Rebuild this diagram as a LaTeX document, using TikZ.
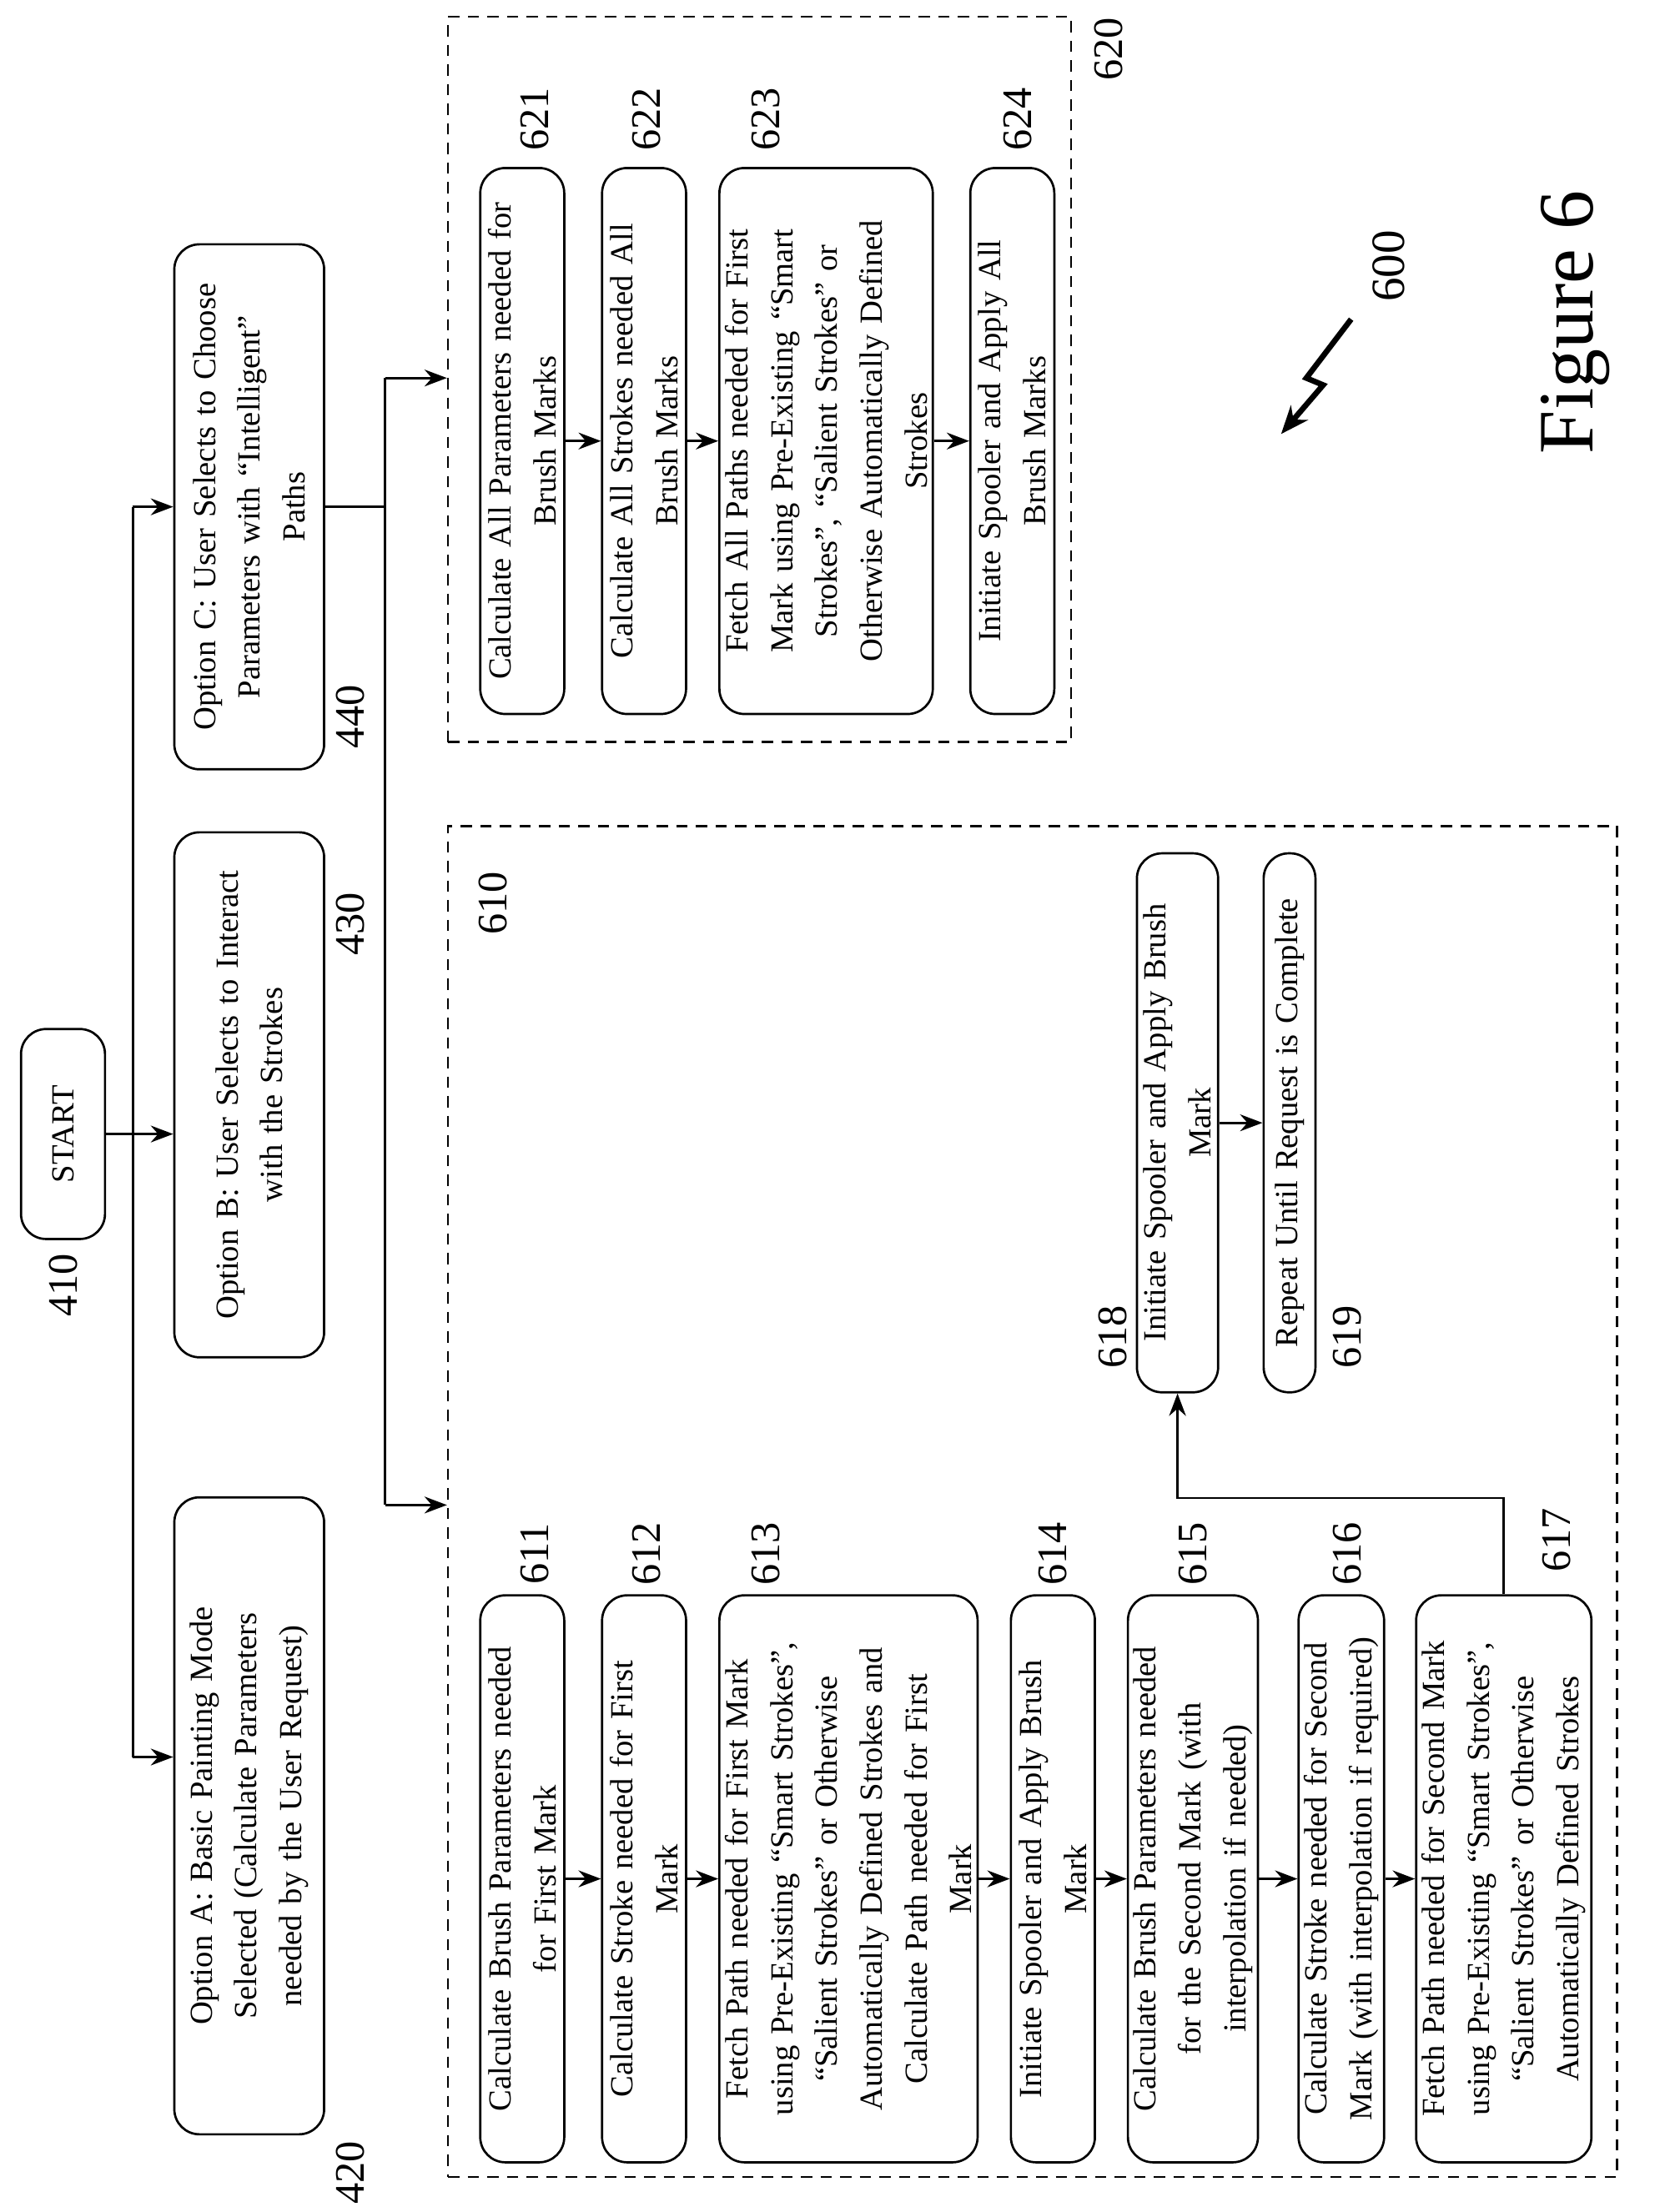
\documentclass[tikz,border=0pt]{standalone}
\usepackage{fontspec}
\setmainfont{Liberation Serif}
\usetikzlibrary{arrows.meta}
\begin{document}
\begin{tikzpicture}[x=0.5pt,y=-0.5pt,
  box/.style={draw,thick,rounded corners=9pt,rotate=90,align=center,inner sep=2pt,font=\fontsize{11.5}{16}\selectfont},
  arr/.style={thick,-{Stealth[length=8pt,width=6pt]}},
  ln/.style={thick},
  lab/.style={rotate=90,font=\fontsize{15}{18}\selectfont,inner sep=0pt},
  dbox/.style={draw,thick,dashed,dash pattern=on 4pt off 3pt}]
\useasboundingbox (0,0) rectangle (1185,1580);
\node[box,minimum width=75pt,minimum height=30pt] (START) at (45,810) {START};
\node[box,minimum width=227.5pt,minimum height=53.5pt,text width=215pt] (A) at (178,1297) {Option A: Basic Painting Mode\\Selected (Calculate Parameters\\needed by the User Request)};
\node[box,minimum width=187.5pt,minimum height=53.5pt,text width=178pt] (B) at (178,782) {Option B: User Selects to Interact\\with the Strokes};
\node[box,minimum width=187.5pt,minimum height=53.5pt,text width=178pt] (C) at (178,362) {Option C: User Selects to Choose\\Parameters with “Intelligent”\\Paths};
\node[lab] (l410) at (45,918) {410};
\node[lab] (l420) at (250,1552) {420};
\node[lab] (l430) at (250,660) {430};
\node[lab] (l440) at (250,512) {440};
\node[dbox,minimum width=222.5pt,minimum height=259pt] (B620) at (542.5,271) {};
\node[dbox,minimum width=417.5pt,minimum height=482.5pt] (B610) at (737.5,1072.5) {};
\node[lab] (l620) at (792,35) {620};
\node[lab] (l610) at (352,645) {610};
\node[box,minimum width=195pt,minimum height=30pt,text width=187pt] (n621) at (373,315) {Calculate All Parameters needed for\\Brush Marks};
\node[box,minimum width=195pt,minimum height=30pt,text width=187pt] (n622) at (460,315) {Calculate All Strokes needed All\\Brush Marks};
\node[box,minimum width=195pt,minimum height=72.5pt,text width=187pt] (n623) at (590,315) {Fetch All Paths needed for First\\Mark using Pre-Existing “Smart\\Strokes”, “Salient Strokes” or\\Otherwise Automatically Defined\\Strokes};
\node[box,minimum width=195pt,minimum height=30pt,text width=187pt] (n624) at (723,315) {Initiate Spooler and Apply All\\Brush Marks};
\node[lab] at (382,85) {621};
\node[lab] at (462,85) {622};
\node[lab] at (547,85) {623};
\node[lab] at (727,85) {624};
\node[box,minimum width=202.5pt,minimum height=30pt,text width=195pt] (n611) at (373,1342) {Calculate Brush Parameters needed\\for First Mark};
\node[box,minimum width=202.5pt,minimum height=30pt,text width=195pt] (n612) at (460,1342) {Calculate Stroke needed for First\\Mark};
\node[box,minimum width=202.5pt,minimum height=88.5pt,text width=195pt] (n613) at (606,1342) {Fetch Path needed for First Mark\\using Pre-Existing “Smart Strokes”,\\“Salient Strokes” or Otherwise\\Automatically Defined Strokes and\\Calculate Path needed for First\\Mark};
\node[box,minimum width=202.5pt,minimum height=30pt,text width=195pt] (n614) at (752,1342) {Initiate Spooler and Apply Brush\\Mark};
\node[box,minimum width=202.5pt,minimum height=44.5pt,text width=195pt] (n615) at (852,1342) {Calculate Brush Parameters needed\\for the Second Mark (with\\interpolation if needed)};
\node[box,minimum width=202.5pt,minimum height=30pt,text width=195pt] (n616) at (958,1342) {Calculate Stroke needed for Second\\Mark (with interpolation if required)};
\node[box,minimum width=202.5pt,minimum height=61pt,text width=195pt] (n617) at (1074,1342) {Fetch Path needed for Second Mark\\using Pre-Existing “Smart Strokes”,\\“Salient Strokes” or Otherwise\\Automatically Defined Strokes};
\node[box,minimum width=192.5pt,minimum height=29pt,text width=185pt] (n618) at (841,802) {Initiate Spooler and Apply Brush\\Mark};
\node[box,minimum width=192.5pt,minimum height=18.5pt,text width=185pt] (n619) at (921,802) {Repeat Until Request is Complete};
\node[lab] at (382,1110) {611};
\node[lab] at (462,1110) {612};
\node[lab] at (547,1110) {613};
\node[lab] at (752,1110) {614};
\node[lab] at (852,1110) {615};
\node[lab] at (962,1110) {616};
\node[lab] at (1112,1100) {617};
\node[lab] at (795,955) {618};
\node[lab] at (962,955) {619};
\coordinate (jc) at (95,362);
\coordinate (ja) at (95,1255);
\draw[arr] (START.south) -- (START.south -| B.north);
\draw[ln] (jc) -- (ja);
\draw[arr] (jc) -- (jc -| C.north);
\draw[arr] (ja) -- (ja -| A.north);
\coordinate (k1) at (275,270);
\coordinate (k2) at (275,1075);
\draw[ln] (C.south) -- (C.south -| k1);
\draw[ln] (k1) -- (k2);
\draw[arr] (k1) -- (k1 -| B620.west);
\draw[arr] (k2) -- (k2 -| B610.west);
\foreach \a/\b in {n621/n622,n622/n623,n623/n624,n611/n612,n612/n613,n613/n614,n614/n615,n615/n616,n616/n617,n618/n619}
  \draw[arr] (\a) -- (\b);
\coordinate (m1) at (1074,1070);
\coordinate (m2) at (841,1070);
\draw[arr] (n617.east) -- (m1) -- (m2) -- (n618.west);
\coordinate (z1) at (965,228);
\coordinate (z2) at (933,270);
\coordinate (z3) at (945,275);
\coordinate (z4) at (915,310);
\draw[line width=2pt,-{Stealth[length=10pt,width=8pt]}] (z1) -- (z2) -- (z3) -- (z4);
\node[lab,font=\fontsize{17}{20}\selectfont] (l600) at (992,190) {600};
\node[rotate=90,font=\fontsize{28}{32}\selectfont] (fig) at (1125,230) {Figure 6};
\end{tikzpicture}
\end{document}
